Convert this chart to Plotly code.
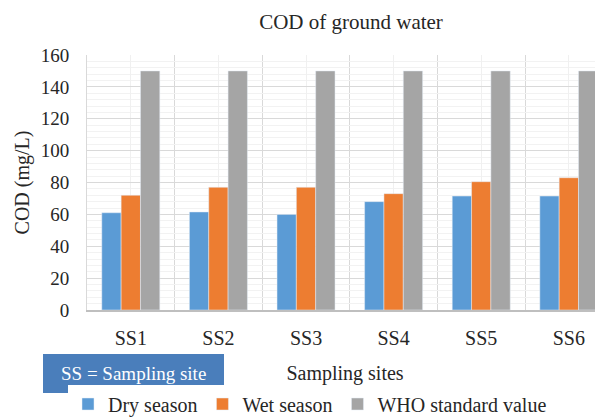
import plotly.graph_objects as go

sites = ["SS1", "SS2", "SS3", "SS4", "SS5", "SS6"]
dry_season = [61, 61.5, 60, 68, 71.5, 71.5]
wet_season = [72, 77, 77, 73, 80.5, 83]
who_standard = [150, 150, 150, 150, 150, 150]

pos = list(range(len(sites)))
FONT = "Liberation Serif"
TXT = "#262626"
W, H = 595, 410          # page body adds an 8px offset
L, T, B = 79, 47, 108
PW, PH = W - L, H - T - B


def f(size, color=TXT):
    return dict(family=FONT, size=size, color=color)


fig = go.Figure()
fig.add_bar(x=pos, y=dry_season, name="Dry season", marker_color="#5b9bd5")
fig.add_bar(x=pos, y=wet_season, name="Wet season", marker_color="#ed7d31")
fig.add_bar(x=pos, y=who_standard, name="WHO standard value", marker_color="#a5a5a5")

fig.update_layout(
    width=W, height=H,
    margin=dict(l=L, r=0, t=T, b=B, autoexpand=False),
    paper_bgcolor="white", plot_bgcolor="white",
    barmode="group", bargap=0.338, bargroupgap=0,
    font=f(16),
    title=dict(text="COD of ground water", xref="container", x=343 / W, xanchor="center",
               yref="container", y=1 - 14 / H, yanchor="middle", font=f(21)),
    xaxis=dict(
        automargin=False,
        range=[-0.5, 5.39], tickmode="array", tickvals=pos, ticktext=sites,
        tickfont=f(20),
        showgrid=True, gridcolor="#f0f0f0", gridwidth=1,
        minor=dict(tickmode="linear", tick0=-0.5, dtick=1, showgrid=True,
                   gridcolor="#d9d9d9", gridwidth=1),
        showline=True, linecolor="#bfbfbf", linewidth=1.5,
        ticks="outside", ticklen=9, tickcolor="rgba(0,0,0,0)",
        title=dict(text="Sampling sites", font=f(20), standoff=19),
        zeroline=False,
    ),
    yaxis=dict(
        automargin=False,
        range=[0, 160], dtick=20, tickfont=f(19),
        showgrid=True, gridcolor="#d9d9d9", gridwidth=1,
        minor=dict(dtick=4, showgrid=True, gridcolor="#f2f2f2", gridwidth=1),
        showline=True, linecolor="#d9d9d9", linewidth=1,
        ticklabelstandoff=13,
        title=dict(text="COD (mg/L)", font=f(20), standoff=5),
        zeroline=False,
    ),
    legend=dict(
        orientation="h", xref="container", yref="container",
        x=60 / W, xanchor="left", y=1 - 396 / H, yanchor="middle",
        font=f(20), traceorder="normal",
    ),
)

fig.add_shape(type="rect", xref="paper", yref="paper",
              x0=(35 - L) / PW, x1=(216 - L) / PW,
              y0=(T + PH - 385) / PH, y1=(T + PH - 346) / PH,
              fillcolor="#4a7ebb", line=dict(width=0), layer="above")
fig.add_annotation(xref="paper", yref="paper",
                   x=(125.5 - L) / PW, y=(T + PH - 365.5) / PH,
                   xanchor="center", yanchor="middle",
                   text="SS = Sampling site", showarrow=False,
                   font=f(19, "white"))

fig.write_html("out.html")
